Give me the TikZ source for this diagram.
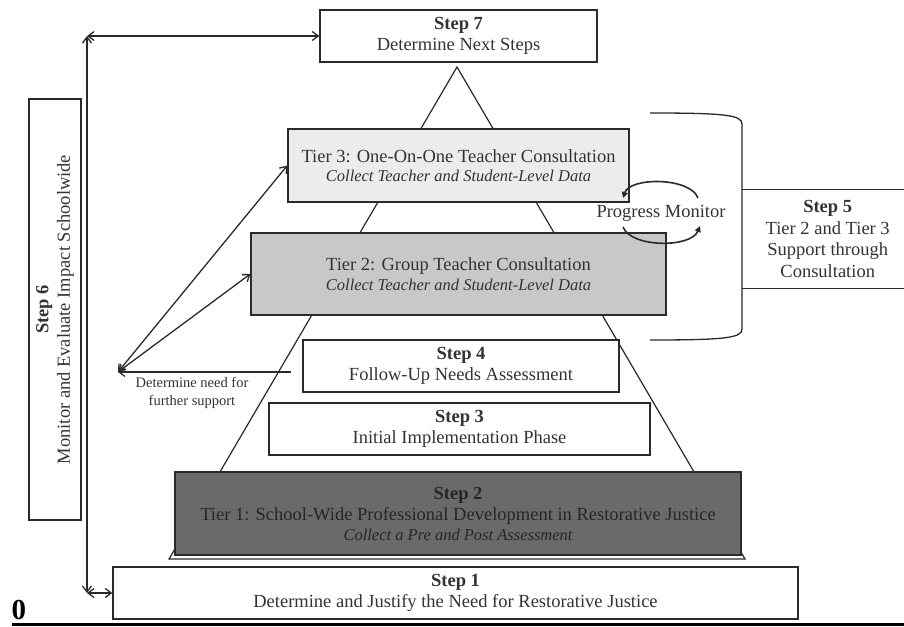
\documentclass[tikz,border=0pt]{standalone}
\usepackage{fontspec}
\setmainfont{Liberation Serif}
\usetikzlibrary{arrows.meta}
\definecolor{linec}{HTML}{2A2A2A}
\definecolor{textc}{HTML}{333333}
\definecolor{tthreefill}{HTML}{ECECEC}
\definecolor{ttwofill}{HTML}{C8C8C8}
\definecolor{stwofill}{HTML}{6A6A6A}
\definecolor{stwotext}{HTML}{262626}
\newcommand\mainfs{\fontsize{18.5}{21.5}\selectfont}
\newcommand\subfs{\fontsize{16.5}{19}\selectfont\itshape}
\newcommand\smallfs{\fontsize{14.5}{18}\selectfont}
\begin{document}
\begin{tikzpicture}[x=1pt,y=-1pt,
  box/.style={draw=linec, line width=1.4pt, inner sep=0pt, align=center, text=textc, font=\mainfs, fill=white},
  conn/.style={draw=linec, line width=1.3pt},
  barb/.style={conn, arrows={Straight Barb[length=6pt,width=9pt]-Straight Barb[length=6pt,width=9pt]}},
  barbend/.style={conn, arrows={-Straight Barb[length=6pt,width=9pt]}},
  cyc/.style={draw=linec, line width=1.6pt, arrows={-Triangle[length=6pt,width=6pt]}}]
\useasboundingbox (0,0) rectangle (904,626);
% pyramid
\coordinate (apex) at (457,67);
\coordinate (bleft) at (169,559);
\coordinate (bright) at (745,559);
\draw[conn, line width=1.2pt, fill=white] (apex) -- (bleft) -- (bright) -- cycle;
% boxes
\node[box, minimum width=277pt, minimum height=52pt] (s7) at (458.5,36) {\textbf{Step 7}\\Determine Next Steps};
\node[box, fill=tthreefill, minimum width=341pt, minimum height=73pt] (t3) at (458.5,165.5)
  {Tier 3: One-On-One Teacher Consultation\\[-2pt]{\subfs Collect Teacher and Student-Level Data}};
\node[box, fill=ttwofill, minimum width=415pt, minimum height=82pt] (t2) at (458.5,274)
  {Tier 2: Group Teacher Consultation\\[-2pt]{\subfs Collect Teacher and Student-Level Data}};
\node[box, minimum width=316pt, minimum height=52pt] (s4) at (461,366) {\textbf{Step 4}\\Follow-Up Needs Assessment};
\node[box, minimum width=381pt, minimum height=52pt] (s3) at (459.5,429) {\textbf{Step 3}\\Initial Implementation Phase};
\node[box, fill=stwofill, text=stwotext, minimum width=566pt, minimum height=83pt] (s2) at (458,513.5)
  {\textbf{Step 2}\\Tier 1: School-Wide Professional Development in Restorative Justice\\[-2pt]{\subfs Collect a Pre and Post Assessment}};
\node[box, minimum width=685pt, minimum height=52pt] (s1) at (455.5,593) {\textbf{Step 1}\\Determine and Justify the Need for Restorative Justice};
\node[box, rotate=90, minimum width=421pt, minimum height=52pt] (s6) at (55,309.5) {\textbf{Step 6}\\Monitor and Evaluate Impact Schoolwide};
% step 5
\node[box, draw=none, fill=none, minimum width=170pt, minimum height=98pt, anchor=west] (s5) at (742,239)
  {\textbf{Step 5}\\Tier 2 and Tier 3\\Support through\\Consultation};
\draw[conn] (s5.north west) -- (s5.north east);
\draw[conn] (s5.south west) -- (s5.south east);
% bracket
\draw[conn] (650,113) .. controls (725,113) and (742,115) .. (742,124) -- (742,329) .. controls (742,338) and (725,340) .. (650,340);
% progress monitor
\node[text=textc, font=\mainfs, inner sep=1pt] (pm) at (661,213) {Progress Monitor};
\draw[cyc] (698,198) .. controls (690,177) and (630,177) .. (623,198);
\draw[cyc] (623,227) .. controls (631,248) and (691,248) .. (700,226);
% left arrows
\coordinate (ctop) at (87,36);
\coordinate (cbot) at (87,593);
\draw[barb] (ctop) -- (cbot);
\draw[barb] (ctop) -- (s7.west);
\draw[barb] (cbot) -- (s1.west);
% need for further support
\coordinate (nf) at (118,372);
\coordinate (sfour) at (291,372);
\draw[barbend] (sfour) -- (nf);
\draw[barb] (nf) -- (t3.west);
\draw[barb] (nf) -- (t2.west);
\node[text=textc, font=\smallfs, align=center, inner sep=0pt] (nfl) at (192,393) {Determine need for\\further support};
% page number and rule
\node[font=\fontsize{29}{30}\selectfont\bfseries, inner sep=0pt] (zero) at (19,610) {0};
\draw[line width=3pt] (12,624.5) -- (904,624.5);
\end{tikzpicture}
\end{document}
